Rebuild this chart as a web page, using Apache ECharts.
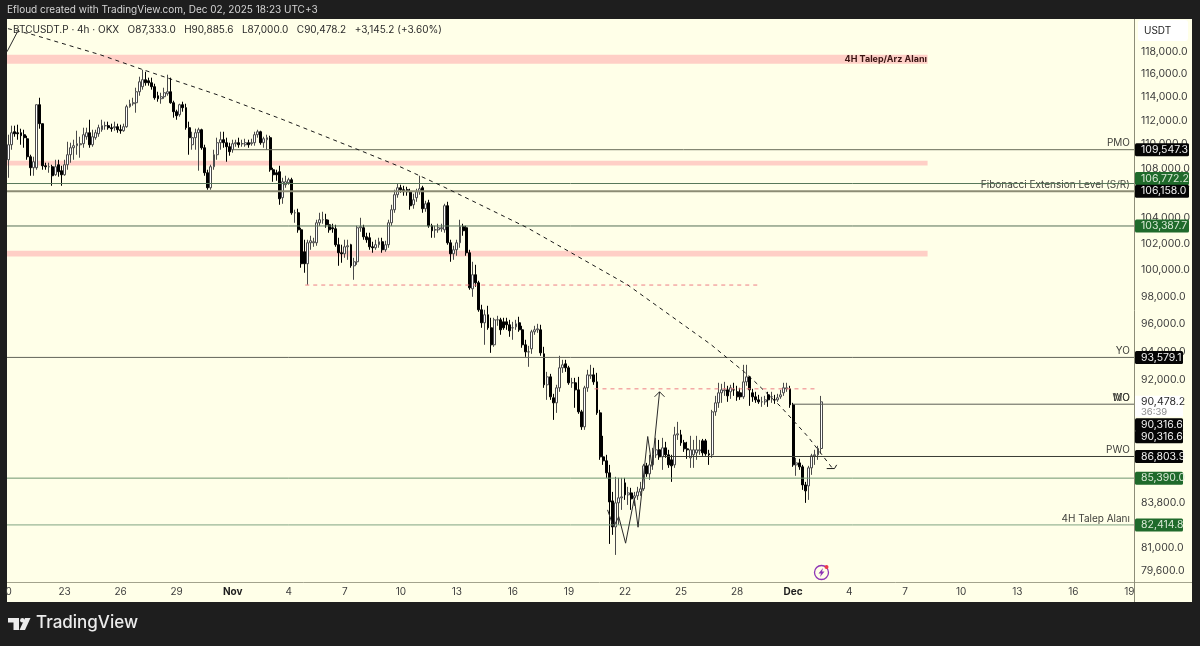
<!DOCTYPE html>
<html>
<head>
<meta charset="utf-8">
<title>BTCUSDT.P 4h</title>
<script src="https://cdn.jsdelivr.net/npm/echarts@6/dist/echarts.min.js"></script>
<style>
  html, body { margin: 0; padding: 0; background: #1e1e1e; }
  #main { width: 1200px; height: 646px; }
</style>
</head>
<body>
<div id="main"></div>
<script>
// --- candles, 4h bars starting Oct 20 ---
const opens = [
  108715,109960,111050,110965,110965,110800,110460,108965,108060,108060,
  113350,111730,108220,108140,108140,107485,108305,107815,107485,108305,
  109130,109710,109880,109960,110045,110630,110965,109960,110550,110880,
  111220,111560,111560,111390,111390,111475,111220,111135,111475,113180,
  113435,113520,114470,114910,115520,115430,115255,114910,114125,113865,
  114040,114300,114470,113520,112750,112495,113350,113095,111390,109960,
  110550,110965,111220,109710,107650,106430,108140,109130,110130,110380,
  110130,109795,109545,110045,110130,110045,109960,110130,110045,110130,
  110800,111050,110130,110380,110550,107895,107650,107730,105630,106675,
  106835,107080,104430,104430,103090,101385,100470,102080,102080,102080,
  103640,103880,103880,103485,103250,103170,101930,101310,101230,101770,
  101930,100315,100620,103250,103250,102545,102470,101770,101695,101930,
  102160,101540,101930,103640,104670,105870,106430,106270,106270,106110,
  105065,105630,106110,106430,104750,105225,103405,103090,103090,103170,
  103090,104990,102080,101230,101540,102080,103330,103250,101310,98580,
  99635,99030,97020,96070,96655,95705,94480,96285,96285,96140,
  96140,95925,95705,95775,96070,95560,94480,93975,94190,95415,
  95560,95560,93835,91655,92210,90755,90410,91445,92845,93125,
  92845,91795,91795,91305,89795,88780,91445,92280,92350,91860,
  89725,86780,86520,85735,83930,82290,83805,84125,85085,84315,
  84440,84125,84250,84505,84700,86190,85670,86255,86915,87245,
  86780,87375,86915,86585,86255,88240,88240,87710,87310,86715,
  86915,87045,87180,87840,87840,86980,86915,89795,90410,91100,
  91240,91305,91170,91305,91170,91100,90825,91860,92210,91100,
  90825,90615,90480,90480,90960,90825,90615,90615,90825,91100,
  91375,91375,90275,86255,86385,86125,84955,84890,86060,86850,86915,87333
];
const closes = [
  109960,110965,110880,110880,110715,110550,108965,108060,108550,113350,
  111730,108220,108140,108140,107405,108140,107730,107485,108305,109130,
  109710,109880,110045,110045,110800,110965,109960,110630,110965,111390,
  111560,111560,111390,111305,111475,111220,111135,111475,113180,113435,
  113520,114470,115340,115520,115255,115255,114910,113950,113865,114040,
  114385,114470,113520,112750,112410,113350,113095,111390,110550,110550,
  110965,111220,109710,107650,106430,108140,109130,110130,110380,110130,
  109795,109380,110045,110130,109960,110045,110130,109960,110130,110800,
  111050,110130,110460,110550,107895,107485,107485,105545,106915,106915,
  107080,104430,104430,103090,100470,100470,102080,102235,102160,103640,
  103880,103880,103485,103090,103170,101930,101310,101230,101770,101850,
  100315,100620,103250,103330,102545,102315,101770,101695,101930,102160,
  101540,101930,103640,104670,105870,106430,106270,106110,106110,104990,
  105465,106110,106350,104750,105145,103405,103015,103090,103250,103250,
  104990,102080,101230,101540,102080,103330,103015,101310,98655,99635,
  99030,97020,96070,96655,95705,94480,96285,96285,95560,95705,
  95925,95490,95705,95995,95560,94480,93975,93975,95415,95560,
  95630,93905,91655,92210,90825,90410,91445,92845,93055,92845,
  91795,91795,91305,89795,88780,91445,92350,92350,91860,89725,
  86780,86520,85735,83865,82290,83805,84125,84185,84315,84440,
  84060,84250,84505,84700,86190,85670,86255,86915,87245,86780,
  87375,86915,86255,86190,88240,88310,87710,87310,87245,87245,
  87245,87245,87245,87045,86980,86915,89795,90410,91100,91305,
  91305,90890,91445,91305,90825,90825,91860,92210,91305,90825,
  90615,90480,90480,90615,90615,90825,90615,90755,90960,91445,
  91445,90275,86255,86385,86125,84955,84570,86060,86850,86915,87333,90478.2
];
const highs = [
  110800,111560,111560,111645,111305,111220,110715,109130,108965,113350,
  113950,111730,108470,108470,108305,108715,108715,108220,108715,110210,
  110130,110380,111135,110630,111390,111390,112065,111220,111220,111645,
  112065,111900,111900,111730,111900,111730,111645,111730,113350,113780,
  113950,114820,115785,116400,116220,115700,115700,115170,114470,114385,
  114820,115960,115700,113695,112920,113435,113610,113435,111900,111050,
  111305,111390,111305,109960,107895,108305,109545,110550,111050,111050,
  110550,110130,110380,110380,110550,110380,110460,110380,110460,111050,
  111220,111135,110630,110800,110715,108060,107895,108220,107240,107405,
  107240,107240,104670,104750,103250,102315,102315,102625,102470,103880,
  104430,104510,104350,103880,103565,103485,102470,101930,102315,102315,
  102000,100925,103405,104035,103485,102860,102860,102160,102315,102470,
  102470,102235,103880,105065,106270,106755,106675,106590,106510,106350,
  105950,106350,107405,106590,105385,105465,103565,103405,103565,103565,
  105145,105305,102315,101850,102315,103880,103565,103405,101540,100620,
  100390,99180,97390,97020,97315,96435,96435,96580,96435,96435,
  96435,96285,96140,96285,96510,95850,94840,94405,95560,95850,
  95995,95925,94335,92560,92420,91030,91655,93695,93410,93410,
  92985,92140,92140,92210,89930,91585,92705,93055,92845,92490,
  89930,88175,86915,86255,84505,85475,85410,85410,85410,84830,
  84765,84505,84830,85150,86320,86385,86915,87375,88040,87905,
  88040,87775,87245,86915,88780,89115,88575,87905,87775,88175,
  87905,88175,87905,87970,87970,87245,89930,90890,91795,91725,
  91860,91585,91655,91795,91585,91445,93055,93055,92280,91375,
  91170,90960,90825,90890,91170,91170,90960,91030,91305,91795,
  91795,91585,90410,86715,86650,86255,85150,86190,86980,87245,87510,90885.6
];
const lows = [
  107240,109545,110630,110380,109960,109710,108715,107405,107405,107895,
  111305,107895,107895,107650,106590,107405,107325,106590,107405,107895,
  108470,108715,109130,108885,109710,110380,109710,109795,110380,110630,
  111050,111220,111220,111050,111135,110965,110880,111050,111390,113095,
  113265,112665,114125,114650,115000,115000,114650,113780,113610,113435,
  113865,114125,113435,112240,112065,112325,112750,111220,109130,109545,
  109545,107815,109545,107405,106270,106270,107895,108715,109545,109710,
  108550,109050,109295,109795,109710,109795,109795,109710,109880,109880,
  110550,109960,109710,109545,107730,106915,107000,105065,105145,106430,
  106675,104275,103640,102860,100165,99785,98880,101540,101770,101850,
  103405,103565,103250,102860,102860,101770,100315,100545,100925,100770,
  100165,99255,100390,102935,102315,102080,101540,101310,101540,101695,
  101310,101385,101695,103405,104430,105630,106030,105790,105790,104670,
  104750,105305,105870,104430,104510,103250,102470,102470,102860,102935,
  102860,101930,100620,100770,101080,101695,102625,101080,98505,97980,
  98730,96875,95705,94480,95560,93905,94335,95850,95200,95560,
  95560,95055,94840,95560,95415,94265,93620,92915,93835,95200,
  95340,93695,91445,90615,90615,89250,89725,91170,92490,92560,
  91655,91445,90070,89660,88575,88575,91170,92070,91655,89590,
  86585,86255,85410,81235,81795,80560,82415,83360,83995,83675,
  83360,83615,83995,84250,84570,85475,85280,85930,86715,86585,
  85930,86715,86060,85150,86060,87905,87510,87110,86650,86060,
  86060,86585,86915,86850,86850,86255,86715,89525,90070,90410,
  90890,90480,90685,90890,90550,90615,90685,91585,90205,90480,
  90410,90340,90135,90275,90135,90410,90340,90480,90685,90890,
  91170,90070,86125,85540,85930,84635,83805,83995,85605,86255,86585,87000
];

// --- time axis: bar index of every date label ---
const barCount = 362;
const tickIndex = [0, 18, 36, 54, 72, 90, 108, 126, 144, 162, 180, 198, 216, 234, 252, 270, 288, 306, 324, 342, 360];
const tickLabels = ['0', '23', '26', '29', 'Nov', '4', '7', '10', '13', '16', '19', '22', '25', '28', 'Dec', '4', '7', '10', '13', '16', '19'];

// --- price scale labels ---
const priceTicks = [118000, 116000, 114000, 112000, 110000, 108000, 104000, 102000, 100000, 98000, 96000, 94000, 92000, 83800, 81000, 79600];
const priceTickLabels = ['118,000.0', '116,000.0', '114,000.0', '112,000.0', '110,000.0', '108,000.0', '104,000.0', '102,000.0', '100,000.0', '98,000.0', '96,000.0', '94,000.0', '92,000.0', '83,800.0', '81,000.0', '79,600.0'];

// --- price tags on the right scale, some are pushed away from their level to not overlap ---
const tagLabels = ['109,547.3', '106,772.2', '106,158.0', '103,387.7', '93,579.1', '90,316.6', '90,316.6', '86,803.9', '85,390.0', '82,414.8'];
const tagAnchors = [109547.3, 107190, 106158, 103387.7, 93579.1, 88913, 88108, 86803.9, 85390, 82414.8];
const tagKinds = ['level', 'green', 'level', 'green', 'level', 'level', 'level', 'level', 'green', 'green'];

// --- horizontal levels ---
const levelPrices = [109547.3, 106772.2, 106158, 103387.7, 93579.1, 90316.6, 86803.9, 85390, 82414.8];
const levelStarts = [72, -0.5, -0.5, -0.5, -0.5, 252, 210, -0.5, -0.5];
const levelColors = ['#686c58', '#58785a', '#8c8c74', '#567058', '#62655a', '#5c5e54', '#3a3c34', '#6f9670', '#80a582'];
const levelWidths = [1, 1, 2, 1, 1, 1, 1, 1, 1];

// --- supply/demand zones ---
const zoneTops = [117732, 108635, 101460];
const zoneBottoms = [116930, 108245, 101020];
const zoneEnd = 295.2;

// --- dashed red levels ---
const redPrices = [98860, 91375];
const redStarts = [95.3, 188.2];
const redEnds = [240.9, 259.2];

// --- drawings ---
const curveIdx = [-0.2, 7.9, 29.4, 43.2, 67, 88.2, 112.3, 125.8, 139.6, 166.6, 198.8, 225.5, 237.4, 248, 256.7, 264.7];
const curvePrices = [120080, 119530, 117732, 116400, 114213, 112068, 109550, 108135, 106523, 103252, 98880, 94516, 92358, 90152, 88137, 86014];
const curveHeadIdx = [262.8, 265.3, 266];
const curveHeadPrices = [86014, 86014, 86255];
const zigzagIdx = [192.4, 194.3, 196, 198.2, 201, 202.2, 205.3, 206.7, 209.1];
const zigzagPrices = [83360, 82290, 82930, 81280, 84110, 82270, 88130, 86150, 91170];
const zigzagHeadIdx = [207.5, 209.1, 210.7];
const zigzagHeadPrices = [90825, 91170, 90825];
const startArrowIdx = [-0.5, 2.7];
const startArrowPrices = [118000, 119710];

// --- text next to the levels ---
const noteTexts = ['PMO', 'Fibonacci Extension Level (S/R)', 'YO', 'MO', 'WO', 'PWO', '4H Talep Alanı'];
const notePrices = [110130, 106675, 94050, 90755, 90755, 87245, 82790];

const FONT = 'Inter, "Liberation Sans", sans-serif';
const PANEL = '#ffffe8';

function pairs(xs, ys) {
  return xs.map(function (x, i) { return [x, ys[i]]; });
}

function plainLine(name, data, color, width, type) {
  return {
    name: name,
    type: 'line',
    xAxisIndex: 1,
    data: data,
    showSymbol: false,
    silent: true,
    z: 4,
    lineStyle: { color: color, width: width, type: type || 'solid' }
  };
}

function priceTickItem(params, api) {
  var cs = params.coordSys;
  var y = api.coord([0, api.value(1)])[1];
  return {
    type: 'text',
    style: {
      x: cs.x + cs.width + 7,
      y: y,
      text: priceTickLabels[params.dataIndex],
      fill: '#3d3d3d',
      font: '10.5px ' + FONT,
      textAlign: 'left',
      textVerticalAlign: 'middle'
    }
  };
}

function priceTagItem(params, api) {
  var cs = params.coordSys;
  var y = api.coord([0, api.value(1)])[1];
  var text = tagLabels[params.dataIndex];
  var left = cs.x + cs.width + 1;
  return {
    type: 'group',
    children: [
      {
        type: 'rect',
        shape: { x: left, y: y - 6.5, width: text.length > 8 ? 54 : 48, height: 13, r: 1.5 },
        style: { fill: tagKinds[params.dataIndex] === 'green' ? '#1f6a2b' : '#050505' }
      },
      {
        type: 'text',
        style: {
          x: left + 6,
          y: y,
          text: text,
          fill: tagKinds[params.dataIndex] === 'green' ? '#d8e8d4' : '#f2f2f2',
          font: '10.5px ' + FONT,
          textAlign: 'left',
          textVerticalAlign: 'middle'
        }
      }
    ]
  };
}

function zoneItem(params, api) {
  var a = api.coord([api.value(0), api.value(2)]);
  var b = api.coord([api.value(1), api.value(3)]);
  return {
    type: 'rect',
    shape: { x: a[0], y: a[1], width: b[0] - a[0], height: b[1] - a[1] },
    style: { fill: '#ffcfc6' }
  };
}

function noteItem(params, api) {
  var p = api.coord([360.2, api.value(1)]);
  return {
    type: 'text',
    style: {
      x: p[0],
      y: p[1],
      text: noteTexts[params.dataIndex],
      fill: '#3f3f3a',
      font: '10px ' + FONT,
      textAlign: 'right',
      textVerticalAlign: 'middle'
    }
  };
}

function zoneLabelItem(params, api) {
  var p = api.coord([api.value(0), api.value(1)]);
  return {
    type: 'text',
    style: {
      x: p[0],
      y: p[1],
      text: '4H Talep/Arz Alanı',
      fill: '#3a1512',
      font: 'bold 9px ' + FONT,
      textAlign: 'right',
      textVerticalAlign: 'middle'
    }
  };
}

function lastPriceItem(params, api) {
  var cs = params.coordSys;
  var y = api.coord([0, api.value(1)])[1];
  var left = cs.x + cs.width + 1;
  return {
    type: 'group',
    children: [
      { type: 'rect', shape: { x: left, y: y - 6, width: 48, height: 21 }, style: { fill: '#ffffff' } },
      { type: 'text', style: { x: left + 6, y: y, text: '90,478.2', fill: '#2a2a2a', font: '10.5px ' + FONT, textAlign: 'left', textVerticalAlign: 'middle' } },
      { type: 'text', style: { x: left + 6, y: y + 10, text: '36:39', fill: '#8a8a8a', font: '9.5px ' + FONT, textAlign: 'left', textVerticalAlign: 'middle' } }
    ]
  };
}

var categories = [];
for (var i = 0; i < barCount; i++) {
  var at = tickIndex.indexOf(i);
  categories.push(at >= 0 ? tickLabels[at] : '');
}

var candleData = opens.map(function (o, i) {
  return [o, closes[i], lows[i], highs[i]];
});

var series = [
  {
    name: 'zones',
    type: 'custom',
    xAxisIndex: 1,
    clip: true,
    z: 1,
    silent: true,
    renderItem: zoneItem,
    encode: { x: [0, 1], y: [2, 3] },
    data: zoneTops.map(function (t, i) { return [-0.5, zoneEnd, t, zoneBottoms[i]]; })
  },
  {
    name: 'BTCUSDT.P',
    type: 'candlestick',
    xAxisIndex: 0,
    z: 2,
    barWidth: 2.4,
    silent: true,
    itemStyle: {
      color: '#ffffff',
      color0: '#000000',
      borderColor: '#4a4a4a',
      borderColor0: '#000000',
      borderWidth: 1
    },
    data: candleData
  }
];

levelPrices.forEach(function (p, i) {
  series.push(plainLine('level' + i, [[levelStarts[i], p], [361.5, p]], levelColors[i], levelWidths[i]));
});
redPrices.forEach(function (p, i) {
  series.push(plainLine('red' + i, [[redStarts[i], p], [redEnds[i], p]], '#ee7f86', 1, [4, 4]));
});
series.push(plainLine('curve', pairs(curveIdx, curvePrices), '#1a1a1a', 1, [4, 4]));
series.push(plainLine('curveHead', pairs(curveHeadIdx, curveHeadPrices), '#1a1a1a', 1));
series.push(plainLine('zigzag', pairs(zigzagIdx, zigzagPrices), '#2a2a2a', 1));
series.push(plainLine('zigzagHead', pairs(zigzagHeadIdx, zigzagHeadPrices), '#2a2a2a', 1));
series.push(plainLine('startArrow', pairs(startArrowIdx, startArrowPrices), '#2a2a2a', 1));

series.push({
  name: 'zoneLabel', type: 'custom', xAxisIndex: 1, z: 5, silent: true,
  renderItem: zoneLabelItem, data: [[295, 117290]]
});
series.push({
  name: 'notes', type: 'custom', xAxisIndex: 1, z: 3, silent: true,
  renderItem: noteItem, data: notePrices.map(function (p, i) { return [i, p]; })
});
series.push({
  name: 'priceTicks', type: 'custom', xAxisIndex: 1, z: 6, silent: true,
  renderItem: priceTickItem, data: priceTicks.map(function (p, i) { return [i, p]; })
});
series.push({
  name: 'lastPrice', type: 'custom', xAxisIndex: 1, z: 7, silent: true,
  renderItem: lastPriceItem, data: [[0, 90478.2]]
});
series.push({
  name: 'priceTags', type: 'custom', xAxisIndex: 1, z: 8, silent: true,
  renderItem: priceTagItem, data: tagAnchors.map(function (p, i) { return [i, p]; })
});

var chart = echarts.init(document.getElementById('main'), null, { renderer: 'canvas' });
chart.setOption({
  animation: false,
  backgroundColor: '#1e1e1e',
  textStyle: { fontFamily: FONT },
  title: [
    {
      text: 'Efloud created with TradingView.com, Dec 02, 2025 18:23 UTC+3',
      left: 7, top: 5, padding: 0,
      textStyle: { color: '#d6d6d6', fontSize: 10, fontWeight: 'normal', fontFamily: FONT }
    },
    {
      text: 'BTCUSDT.P · 4h · OKX   O87,333.0   H90,885.6   L87,000.0   C90,478.2   +3,145.2 (+3.60%)',
      left: 13, top: 25, padding: 0,
      textStyle: { color: '#2b2b2b', fontSize: 10, fontWeight: 'normal', fontFamily: FONT }
    },
    {
      text: 'TradingView',
      left: 36, top: 614, padding: 0,
      textStyle: { color: '#ececec', fontSize: 17, fontWeight: 500, fontFamily: FONT }
    },
    {
      text: 'USDT',
      left: 1144, top: 26, padding: 0, z: 10,
      textStyle: { color: '#222222', fontSize: 10, fontWeight: 'normal', fontFamily: FONT }
    }
  ],
  grid: { left: 7, right: 66, top: 19, bottom: 64, show: false },
  xAxis: [
    {
      type: 'category',
      data: categories,
      boundaryGap: true,
      axisLine: { show: false },
      axisTick: { show: false },
      splitLine: { show: false },
      axisLabel: {
        interval: 0,
        margin: 5,
        color: '#3d3d3d',
        fontSize: 10,
        fontFamily: FONT,
        hideOverlap: false,
        formatter: function (v) {
          return v === 'Nov' || v === 'Dec' ? '{b|' + v + '}' : v;
        },
        rich: { b: { fontWeight: 'bold', color: '#1c1c1c', fontSize: 10, fontFamily: FONT } }
      }
    },
    { type: 'value', show: false, min: -0.5, max: 361.5, splitLine: { show: false } }
  ],
  yAxis: {
    type: 'log',
    position: 'right',
    min: 78922,
    max: 120964,
    axisLine: { show: false },
    axisTick: { show: false },
    axisLabel: { show: false },
    splitLine: { show: false }
  },
  graphic: [
    // chart panel and scale borders
    { type: 'rect', z: -10, shape: { x: 7, y: 19, width: 1185, height: 583 }, style: { fill: PANEL } },
    { type: 'line', z: 9, shape: { x1: 7, y1: 582.5, x2: 1192, y2: 582.5 }, style: { stroke: '#a3a38d', lineWidth: 1 } },
    { type: 'line', z: 9, shape: { x1: 1134.5, y1: 19, x2: 1134.5, y2: 602 }, style: { stroke: '#8d8d78', lineWidth: 1 } },
    { type: 'rect', z: 9, shape: { x: 1138, y: 20, width: 50, height: 21, r: 3 }, style: { fill: '#ffffff' } },
    // TradingView mark in the footer
    { type: 'polygon', shape: { points: [[8, 618], [19, 618], [19, 630], [13.5, 630], [13.5, 622.5], [8, 622.5]] }, style: { fill: '#ececec' } },
    { type: 'circle', shape: { cx: 22.3, cy: 620.2, r: 2.2 }, style: { fill: '#ececec' } },
    { type: 'polygon', shape: { points: [[25, 618], [30.5, 618], [25, 630], [19.5, 630]] }, style: { fill: '#ececec' } },
    // lightning badge
    { type: 'circle', z: 9, shape: { cx: 821.5, cy: 572.5, r: 7 }, style: { fill: 'none', stroke: '#8e35b5', lineWidth: 1.3 } },
    { type: 'polygon', z: 9, shape: { points: [[823, 568], [818.5, 573.5], [821, 573.5], [820, 577], [824.5, 571.5], [822, 571.5]] }, style: { fill: '#8e35b5' } },
    { type: 'circle', z: 9, shape: { cx: 826.5, cy: 567, r: 2 }, style: { fill: '#ee3a4a' } }
  ],
  series: series
});
</script>
</body>
</html>
